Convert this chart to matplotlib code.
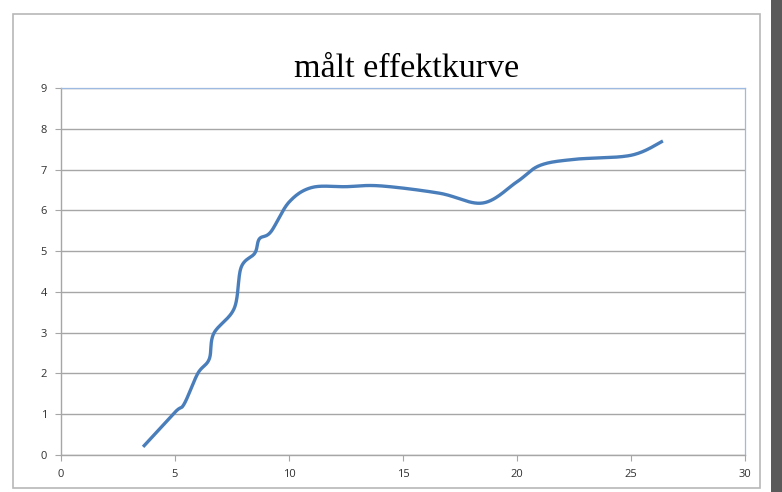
import numpy as np
import matplotlib.pyplot as plt
from matplotlib.patches import Rectangle

# measured points (wind speed m/s, power)
wind = [3.6, 5.0, 5.4, 6.0, 6.5, 6.7, 7.6, 7.9, 8.5, 8.7, 9.2, 10.0, 11.0, 12.5, 14.0, 16.6, 18.5, 20.0, 21.0, 22.5, 25.0, 26.4]
power = [0.2, 1.05, 1.25, 2.0, 2.35, 2.98, 3.6, 4.6, 4.95, 5.3, 5.47, 6.2, 6.56, 6.58, 6.6, 6.42, 6.18, 6.7, 7.1, 7.25, 7.35, 7.7]

title = "målt effektkurve"
x_ticks = [0, 5, 10, 15, 20, 25, 30]
y_ticks = list(range(0, 10))


def smooth(xs, ys, n=30):
    # Excel style smoothed line: cubic bezier segments, catmull-rom tangents
    p = np.column_stack([xs, ys]).astype(float)
    pts = [p[0]]
    t = np.linspace(0, 1, n)[1:, None]
    for i in range(len(p) - 1):
        p0 = p[i - 1] if i > 0 else p[i]
        p3 = p[i + 2] if i + 2 < len(p) else p[i + 1]
        c1 = p[i] + (p[i + 1] - p0) / 6
        c2 = p[i + 1] - (p3 - p[i]) / 6
        seg = ((1 - t) ** 3) * p[i] + 3 * ((1 - t) ** 2) * t * c1 + 3 * (1 - t) * t ** 2 * c2 + t ** 3 * p[i + 1]
        pts.extend(seg)
    pts = np.array(pts)
    return pts[:, 0], pts[:, 1]


fig = plt.figure(figsize=(7.82, 4.92), dpi=100)

# chart frame + shadow on right side
fig.patches.append(Rectangle((771 / 782, 0), 11 / 782, 1, transform=fig.transFigure,
                             facecolor='#5a5a5a', edgecolor='none', zorder=0))
fig.patches.append(Rectangle((13 / 782, 4 / 492), 747 / 782, 474 / 492, transform=fig.transFigure,
                             facecolor='white', edgecolor='#b8b8b8', lw=1.2, zorder=1))

ax = fig.add_axes([61 / 782, 37 / 492, 684 / 782, 367 / 492])
ax.set_zorder(2)

sx, sy = smooth(wind, power)
ax.plot(sx, sy, color='#4a7ebb', lw=2.4, solid_capstyle='butt', zorder=3)

ax.set_xlim(0, 30)
ax.set_ylim(0, 9)
ax.set_xticks(x_ticks)
ax.set_yticks(y_ticks)
ax.grid(axis='y', color='#a6a6a6', lw=1.0, zorder=1)
ax.set_axisbelow(True)

for side in ['top', 'right']:
    ax.spines[side].set_color('#9dbbe2')
    ax.spines[side].set_linewidth(0.9)
for side in ['left', 'bottom']:
    ax.spines[side].set_color('#a6a6a6')
    ax.spines[side].set_linewidth(1.0)

ax.tick_params(axis='both', direction='out', length=4, width=0.8, color='#a6a6a6',
               labelsize=8, labelcolor='#303030')
ax.tick_params(axis='x', pad=6)
ax.tick_params(axis='y', pad=6)
for lab in ax.get_xticklabels() + ax.get_yticklabels():
    lab.set_fontfamily('Open Sans')

fig.text(407 / 782, 1 - 77 / 492, title, ha='center', va='baseline',
         fontsize=24.5, family='Liberation Serif', color='black')

fig.savefig('out.png', dpi=100)
